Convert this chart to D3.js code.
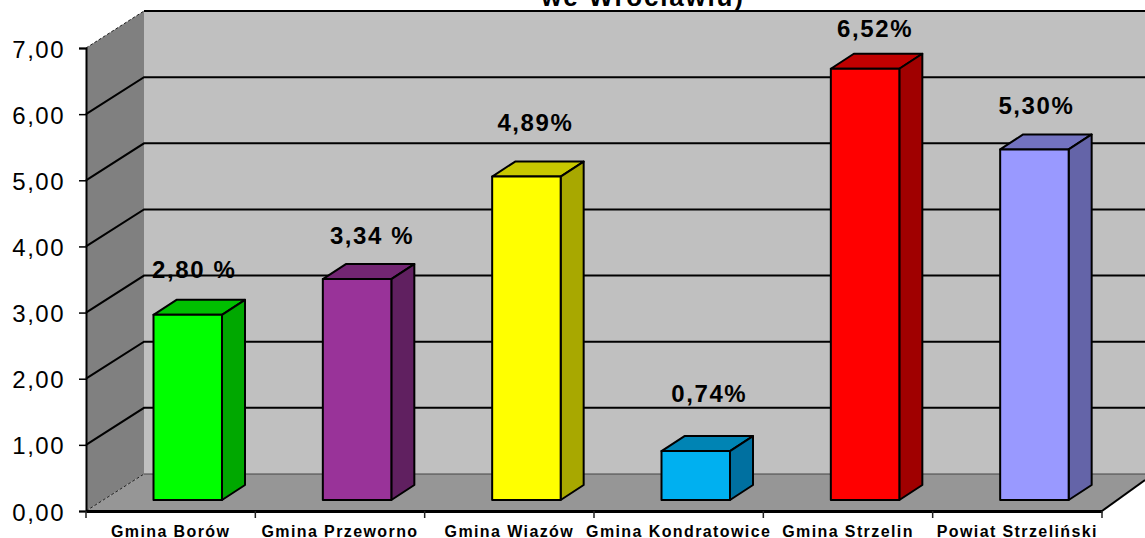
<!DOCTYPE html>
<html>
<head>
<meta charset="utf-8">
<script src="https://cdn.jsdelivr.net/npm/d3@7.9.0/dist/d3.min.js"></script>
<style>
  html, body { margin: 0; padding: 0; background: #fff; overflow: hidden; }
  text { font-family: "Liberation Sans", Arial, sans-serif; fill: #000; }
</style>
</head>
<body>
<svg id="chart" width="1145" height="538"></svg>
<script>
const categories = ["Gmina Borów", "Gmina Przeworno", "Gmina Wiazów", "Gmina Kondratowice", "Gmina Strzelin", "Powiat Strzeliński"];
const values = [2.80, 3.34, 4.89, 0.74, 6.52, 5.30];
const valueLabels = ["2,80 %", "3,34 %", "4,89%", "0,74%", "6,52%", "5,30%"];
const yTicks = [0, 1, 2, 3, 4, 5, 6, 7];
const frontColors = ["#00ff00", "#993399", "#ffff00", "#00b0f0", "#ff0000", "#9999ff"];
const topColors = ["#00c000", "#732673", "#c8c800", "#0084b4", "#c00000", "#7373c0"];
const sideColors = ["#00a800", "#602060", "#a8a800", "#0070a0", "#a00000", "#6464a8"];
const titleTail = "we Wrocławiu)";

const svg = d3.select("#chart");

const left = 86, right = 1102, bottom = 511, top7 = 48, edge = 1145;
const wallDx = 58, wallDy = 37;   // depth of the 3d box
const barDx = 23, barDy = 15;     // depth of a bar
const barOffset = 67.5, barWidth = 68.5, barLift = 11;
// the labels were dragged by hand in the original, so each has its own nudge
const labelDx = [6.5, 15, 9, 13.5, 10, 2];
const labelDy = [-37, -35, -45.5, -49, -32, -35.5];

const x = d3.scaleBand().domain(categories).range([left, right]);
const y = d3.scaleLinear().domain([0, 7]).range([bottom, top7]);

const pts = (a) => a.map((p) => p.join(",")).join(" ");

// walls and floor
svg.append("polygon")
  .attr("points", pts([[left + wallDx, y(7) - wallDy], [edge, y(7) - wallDy], [edge, y(0) - wallDy], [left + wallDx, y(0) - wallDy]]))
  .attr("fill", "#c0c0c0");
svg.append("polygon")
  .attr("points", pts([[left, y(7)], [left + wallDx, y(7) - wallDy], [left + wallDx, y(0) - wallDy], [left, y(0)]]))
  .attr("fill", "#808080");
svg.append("polygon")
  .attr("points", pts([[left, y(0)], [left + wallDx, y(0) - wallDy], [edge, y(0) - wallDy], [edge, y(0) - 31], [right, y(0)]]))
  .attr("fill", "#969696");

// gridlines
const grid = svg.append("g").attr("fill", "none").attr("stroke", "#000").attr("stroke-width", 2);
yTicks.filter((d) => d > 0 && d < 7).forEach((d) => {
  grid.append("polyline")
    .attr("points", pts([[left, y(d)], [left + wallDx, y(d) - wallDy], [edge, y(d) - wallDy]]));
});
grid.append("line")
  .attr("x1", left + wallDx).attr("y1", y(7) - wallDy).attr("x2", edge).attr("y2", y(7) - wallDy);
// thin dotted diagonals at the top and the floor
[7, 0].forEach((d) => {
  svg.append("line")
    .attr("x1", left).attr("y1", y(d)).attr("x2", left + wallDx).attr("y2", y(d) - wallDy)
    .attr("stroke", "#222").attr("stroke-width", 1).attr("stroke-dasharray", "3,2");
});
svg.append("line")
  .attr("x1", left + wallDx).attr("y1", y(0) - wallDy).attr("x2", edge).attr("y2", y(0) - wallDy)
  .attr("stroke", "#444").attr("stroke-width", 1);
svg.append("line")
  .attr("x1", right).attr("y1", y(0)).attr("x2", edge).attr("y2", y(0) - 31)
  .attr("stroke", "#000").attr("stroke-width", 2);

// bars
const bars = svg.append("g").selectAll("g").data(values).join("g")
  .attr("stroke", "#000").attr("stroke-width", 2).attr("stroke-linejoin", "round");
const barX = (i) => x(categories[i]) + barOffset;
const barTop = (d) => y(d) - barLift;
const barBase = y(0) - barLift;

bars.append("polygon")
  .attr("points", (d, i) => pts([[barX(i), barTop(d)], [barX(i) + barDx, barTop(d) - barDy], [barX(i) + barWidth + barDx, barTop(d) - barDy], [barX(i) + barWidth, barTop(d)]]))
  .attr("fill", (d, i) => topColors[i]);
bars.append("polygon")
  .attr("points", (d, i) => pts([[barX(i) + barWidth, barTop(d)], [barX(i) + barWidth + barDx, barTop(d) - barDy], [barX(i) + barWidth + barDx, barBase - barDy], [barX(i) + barWidth, barBase]]))
  .attr("fill", (d, i) => sideColors[i]);
bars.append("rect")
  .attr("x", (d, i) => barX(i))
  .attr("y", (d) => barTop(d))
  .attr("width", barWidth)
  .attr("height", (d) => barBase - barTop(d))
  .attr("fill", (d, i) => frontColors[i]);

// value labels
svg.append("g").selectAll("text").data(values).join("text")
  .attr("x", (d, i) => barX(i) + barWidth / 2 + labelDx[i])
  .attr("y", (d, i) => barTop(d) + labelDy[i])
  .attr("text-anchor", "middle")
  .style("font-size", "24px")
  .style("font-weight", "bold")
  .style("letter-spacing", "1.6px")
  .text((d, i) => valueLabels[i]);

// axes
const yAxis = d3.axisLeft(y).tickValues(yTicks).tickSize(7).tickPadding(14)
  .tickFormat((d) => d3.format(".2f")(d).replace(".", ","));
const yG = svg.append("g").attr("transform", `translate(${left},0)`).call(yAxis);
yG.selectAll("path").attr("stroke", "#000").attr("stroke-width", 2);
yG.selectAll("line").attr("stroke", "#000").attr("stroke-width", 1.5);
yG.selectAll("text")
  .style("font-size", "24px")
  .style("letter-spacing", "1.5px")
  .attr("dy", "0.38em");

const xAxis = d3.axisBottom(x).tickSize(0).tickSizeOuter(0).tickValues([]);
const xG = svg.append("g").attr("transform", `translate(0,${bottom})`).call(xAxis);
xG.selectAll("path").attr("stroke", "#000").attr("stroke-width", 3);
categories.concat([null]).forEach((c) => {
  const tx = c ? x(c) : right;
  xG.append("line").attr("x1", tx).attr("x2", tx).attr("y1", 0).attr("y2", 7).attr("stroke", "#222").attr("stroke-width", 1.5);
});
xG.selectAll("text.cat").data(categories).join("text")
  .attr("class", "cat")
  .attr("x", (d) => x(d) + x.bandwidth() / 2)
  .attr("y", 25.5)
  .attr("text-anchor", "middle")
  .style("font-size", "16px")
  .style("font-weight", "bold")
  .style("letter-spacing", "1.4px")
  .text((d) => d);

// title, cut off by the top edge of the picture
svg.append("text")
  .attr("x", 643).attr("y", 6)
  .attr("text-anchor", "middle")
  .style("font-size", "26px")
  .style("font-weight", "bold")
  .style("letter-spacing", "1.8px")
  .text(titleTail);
</script>
</body>
</html>
